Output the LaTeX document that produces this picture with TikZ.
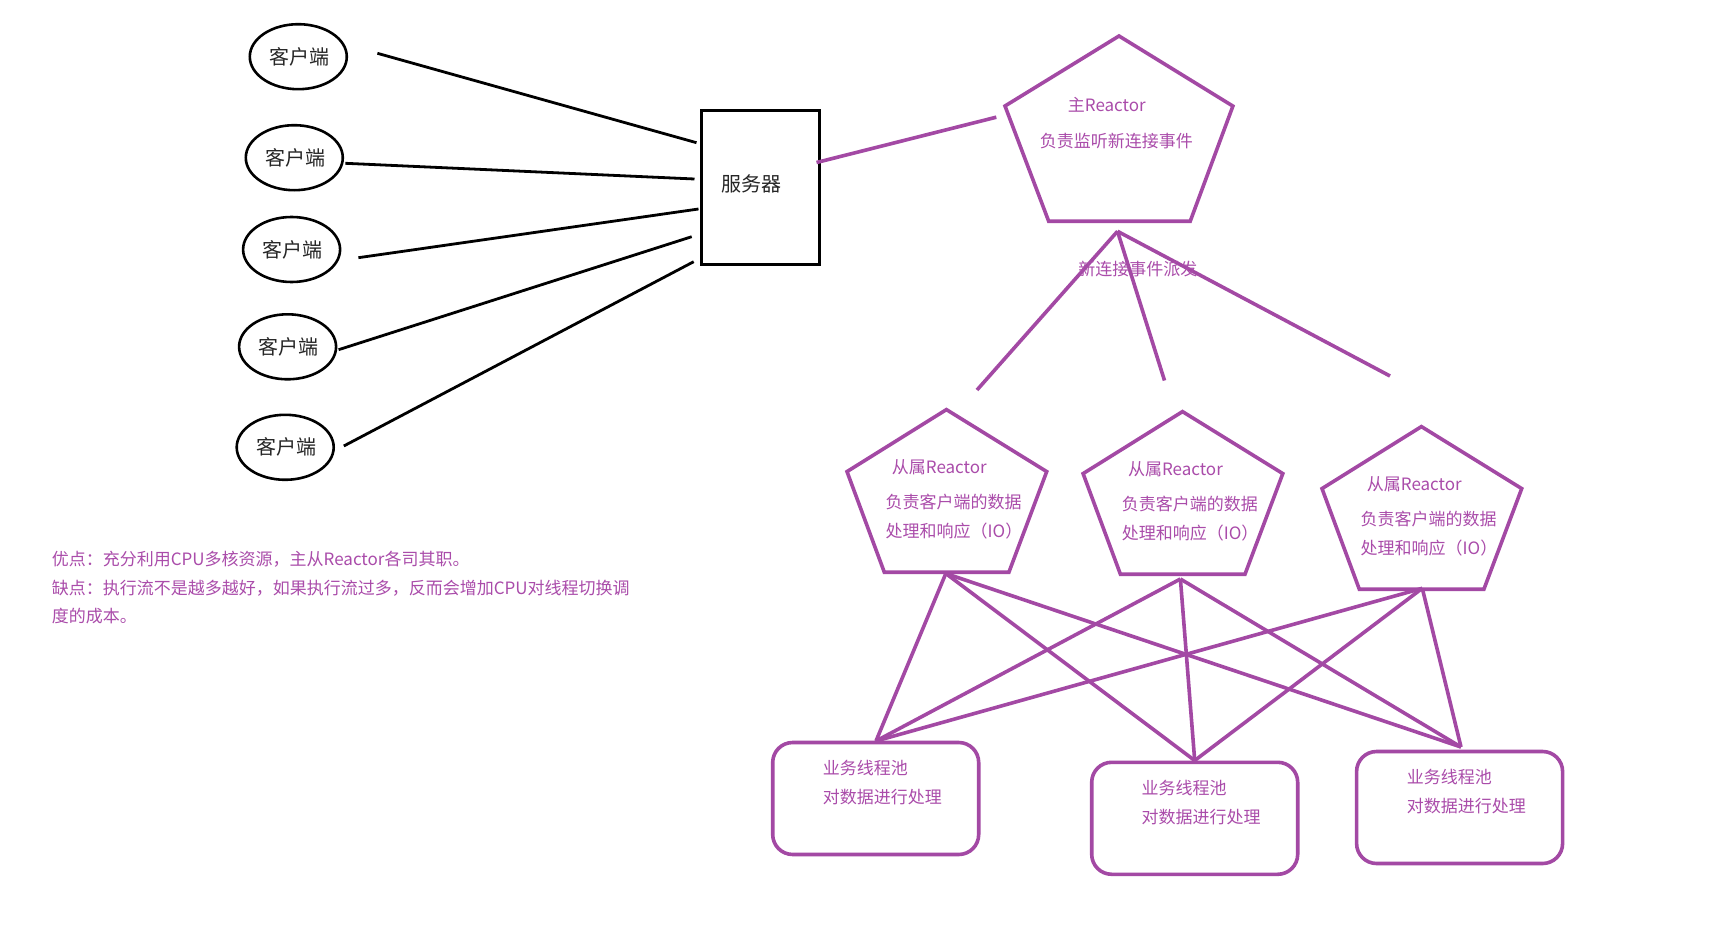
\documentclass[tikz,border=0pt]{standalone}
\usepackage{fontspec}
\setmainfont{Noto Sans CJK SC}
\usetikzlibrary{shapes.geometric}
\definecolor{rpurple}{HTML}{A349A4}
\definecolor{rtext}{HTML}{AA4CAA}
\tikzset{
  client/.style={ellipse,draw=black,line width=1.3pt,minimum width=97pt/2,minimum height=65pt/2,inner sep=0pt,font=\fontsize{10}{12}\selectfont,text=black!85},
  serverbox/.style={rectangle,draw=black,line width=1.5pt,inner sep=0pt,minimum width=118*0.5pt,minimum height=154*0.5pt},
  blackline/.style={draw=black,line width=1.4pt},
  purpleline/.style={draw=rpurple,line width=1.8pt},
  pentagonline/.style={draw=rpurple,line width=1.8pt,line join=miter},
  poolbox/.style={rectangle,rounded corners=10pt,draw=rpurple,line width=1.8pt,inner sep=0pt,minimum width=206*0.5pt,minimum height=112*0.5pt},
  ptext/.style={anchor=west,inner sep=0pt,text=rtext,text height=0.88em,text depth=0.12em,font=\fontsize{8.5}{10}\selectfont},
  btext/.style={anchor=center,inner sep=0pt,text=black!85,font=\fontsize{10}{12}\selectfont},
}
\newcommand{\slavereactor}[3]{%
  \draw[pentagonline] (#2+946.4,#3+409.6) -- (#2+1046.7,#3+471.6) -- (#2+1008.9,#3+572.2) -- (#2+884.3,#3+572.2) -- (#2+847,#3+471.6) -- cycle;
  \node[ptext] (#1a) at (#2+891.5,#3+466) {从属Reactor};
  \node[ptext] (#1b) at (#2+885.3,#3+501) {负责客户端的数据};
  \node[ptext] (#1c) at (#2+885.3,#3+530) {处理和响应（IO）};
}
\newcommand{\poolbox}[5]{%
  \node[poolbox] (#1) at (#2,#3) {};
  \node[ptext] (#1a) at (#4,#5) {业务线程池};
  \node[ptext] (#1b) at (#4,#5+29.3) {对数据进行处理};
}
\begin{document}
\begin{tikzpicture}[x=0.5pt,y=-0.5pt]
\useasboundingbox (0,0) rectangle (1731,947);
\fill[white] (0,0) rectangle (1731,947);

% clients and server
\node[client] (c1) at (298.3,56.7) {\raisebox{-1pt}{\hspace{1pt}客户端}};
\node[client] (c2) at (294.3,157.7) {\raisebox{-0.5pt}{\hspace{1pt}客户端}};
\node[client] (c3) at (291.6,249.5) {\raisebox{-0.5pt}{\hspace{1pt}客户端}};
\node[client] (c4) at (287.6,346.8) {\raisebox{-0.5pt}{\hspace{1pt}客户端}};
\node[client] (c5) at (285.2,447.3) {\raisebox{-1pt}{\hspace{1pt}客户端}};
\node[serverbox] (server) at (760,187.3) {};
\node[btext] (serverlabel) at (751.5,183.5) {服务器};

\coordinate (c1e) at (377.4,53.3);
\coordinate (c2e) at (345.3,163.3);
\coordinate (c3e) at (358.4,257.7);
\coordinate (c4e) at (338.6,349.7);
\coordinate (c5e) at (343.8,446);
\coordinate (s1e) at (696.5,142.7);
\coordinate (s2e) at (694.5,179);
\coordinate (s3e) at (698.5,209);
\coordinate (s4e) at (691.7,236.7);
\coordinate (s5e) at (693.7,261.7);
\draw[blackline] (c1e) -- (s1e);
\draw[blackline] (c2e) -- (s2e);
\draw[blackline] (c3e) -- (s3e);
\draw[blackline] (c4e) -- (s4e);
\draw[blackline] (c5e) -- (s5e);

% main reactor
\draw[pentagonline] (1119,36) -- (1232.9,106.1) -- (1190.2,221.3) -- (1048.7,221.3) -- (1005,106) -- cycle;
\node[ptext] (mainA) at (1067.5,104) {主Reactor};
\node[ptext] (mainB) at (1039.5,140) {负责监听新连接事件};
\coordinate (mainL) at (996.3,117.2);
\coordinate (serverR) at (816.5,162.5);
\draw[purpleline] (serverR) -- (mainL);

\coordinate (disp) at (1117.5,231.3);
\coordinate (d1) at (977,390);
\coordinate (d2) at (1164.5,380.5);
\coordinate (d3) at (1390,376);
\draw[purpleline] (disp) -- (d1);
\draw[purpleline] (disp) -- (d2);
\draw[purpleline] (disp) -- (d3);
\node[ptext] (displabel) at (1078,267.8) {新连接事件派发};

% slave reactors
\slavereactor{sa}{0}{0}
\slavereactor{sb}{236.1}{2}
\slavereactor{sc}{475}{17}

% worker pools
\poolbox{p1}{875.7}{798.5}{822.5}{767}
\poolbox{p2}{1194.7}{818.3}{1141.2}{787}
\poolbox{p3}{1459.6}{807.5}{1406.5}{776}

\coordinate (S1) at (945.8,573.5);
\coordinate (S2) at (1180.4,579);
\coordinate (S3) at (1422.3,588.3);
\coordinate (T1) at (876,741);
\coordinate (T2) at (1194.7,760.5);
\coordinate (T3) at (1461,747);
\foreach \s in {S1,S2,S3}{\foreach \t in {T1,T2,T3}{\draw[purpleline] (\s) -- (\t);}}

% notes
\node[ptext] (n1) at (51.4,557.8) {优点：充分利用CPU多核资源，主从Reactor各司其职。};
\node[ptext] (n2) at (51.4,586.8) {缺点：执行流不是越多越好，如果执行流过多，反而会增加CPU对线程切换调};
\node[ptext] (n3) at (51.4,615.2) {度的成本。};
\end{tikzpicture}
\end{document}
